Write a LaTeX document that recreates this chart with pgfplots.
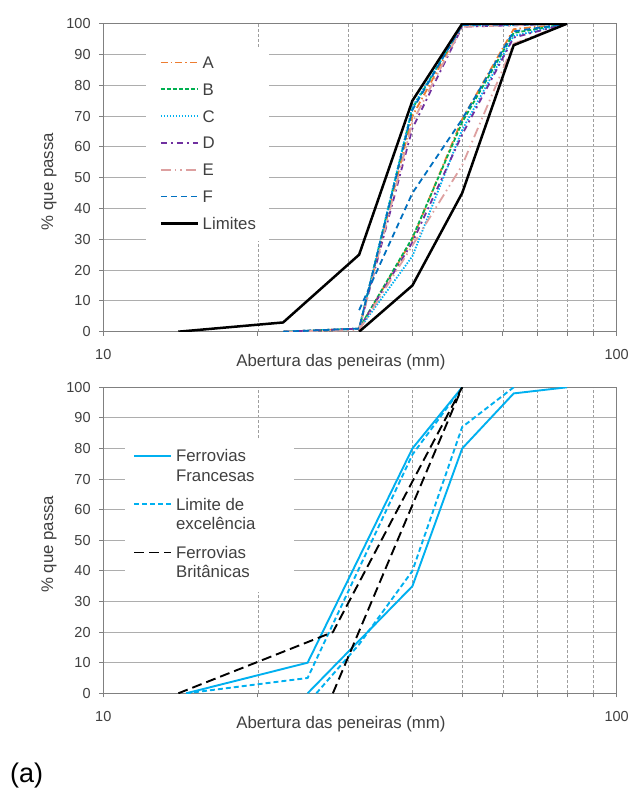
\documentclass[border=0pt]{standalone}
\usepackage{pgfplots}
\pgfplotsset{compat=1.18}
\usepackage{fontspec}
\setmainfont{Liberation Sans}
\definecolor{txt}{HTML}{404040}
\definecolor{cA}{HTML}{ED7D31}
\definecolor{cB}{HTML}{00B050}
\definecolor{cC}{HTML}{00B0F0}
\definecolor{cD}{HTML}{7030A0}
\definecolor{cE}{HTML}{DDA0A0}
\definecolor{cF}{HTML}{0070C0}
\definecolor{cyanL}{HTML}{00B0F0}
\begin{document}
\begin{tikzpicture}
\useasboundingbox (0pt,0pt) rectangle (630pt,789pt);
\fill[white] (0pt,0pt) rectangle (630pt,789pt);

\begin{axis}[at={(103.3pt,457.3pt)}, anchor=south west, height=308pt,
    scale only axis, width=513.4pt,
    xmode=log, xmin=10, xmax=100, ymin=0, ymax=100,
    xtick={10,100}, xticklabels={10,100},
    ytick={0,10,...,100},
    minor xtick={20,30,40,50,60,70,80,90},
    xminorgrids=true, ymajorgrids=true,
    minor x grid style={draw=black!38, dash pattern=on 3pt off 2pt, line width=0.6pt},
    major y grid style={draw=black!32, line width=0.8pt},
    axis line style={draw=black!50, line width=0.8pt},
    tick style={draw=black!50, line width=0.8pt},
    tick align=outside, major tick length=4pt, minor tick length=4pt,
    xtick pos=bottom, ytick pos=left,
    tick label style={font=\fontsize{14.5}{17}\selectfont, text=txt, inner sep=0pt},
    xticklabel style={anchor=base, yshift=-24.3pt},
    yticklabel style={anchor=east, xshift=-8.5pt},
    /pgf/number format/assume math mode=true,
    xlabel={Abertura das peneiras (mm)},
    ylabel={\% que passa},
    label style={font=\fontsize{16.8}{20}\selectfont, text=txt},
    xlabel style={at={(axis description cs:0.463,0)}, anchor=base, yshift=-35pt},
    ylabel style={at={(axis description cs:-0.0976,0.487)}, anchor=base},
    no markers,
    legend image code/.code={\draw[#1] (0pt,6pt) -- (37.4pt,6pt);},
  legend style={at={(axis description cs:0.0832,0.9211)}, anchor=north west,
    draw=none, fill=white, inner xsep=13.3pt, inner ysep=8.3pt, row sep=11.8pt, column sep=3.3pt,
    font=\fontsize{16.8}{20}\selectfont, text=txt,
    nodes={inner sep=0pt, text height=12pt, text depth=3pt}, cells={anchor=base west}},
]
% A
\addplot[cA, line width=1.8pt, dash pattern=on 7pt off 3pt on 1.5pt off 3pt] coordinates {(22.4,0) (31.5,1) (40,70) (50,99.5) (63,99.7) (80,100)};
\addlegendentry{A}
\addplot[cA, line width=1.8pt, dash pattern=on 7pt off 3pt on 1.5pt off 3pt, forget plot] coordinates {(31.5,1) (40,30) (50,69) (63,98.2) (80,100)};
% B
\addplot[cB, line width=1.8pt, dash pattern=on 4pt off 2pt] coordinates {(22.4,0) (31.5,1) (40,72.5) (50,99.6) (63,99.6) (80,100)};
\addlegendentry{B}
\addplot[cB, line width=1.8pt, dash pattern=on 4pt off 2pt, forget plot] coordinates {(31.5,1) (40,30.5) (50,68) (63,97) (80,100)};
% C
\addplot[cC, line width=1.8pt, dash pattern=on 1.5pt off 1.5pt] coordinates {(22.4,0) (31.5,1) (40,73) (50,99.4) (63,99.5) (80,100)};
\addlegendentry{C}
\addplot[cC, line width=1.8pt, dash pattern=on 1.5pt off 1.5pt, forget plot] coordinates {(31.5,0.8) (40,24.5) (50,65.5) (63,96) (80,100)};
% D
\addplot[cD, line width=1.8pt, dash pattern=on 6pt off 4pt on 2pt off 4pt] coordinates {(22.4,0) (31.5,1) (40,66) (50,99) (63,99.5) (80,100)};
\addlegendentry{D}
\addplot[cD, line width=1.8pt, dash pattern=on 6pt off 4pt on 2pt off 4pt, forget plot] coordinates {(31.5,1) (40,29) (50,64) (63,95.5) (80,100)};
% E
\addplot[cE, line width=1.8pt, dash pattern=on 10pt off 4pt on 1.5pt off 4pt on 1.5pt off 4pt] coordinates {(22.4,0) (31.5,0.5) (40,68) (50,99) (63,99.5) (80,100)};
\addlegendentry{E}
\addplot[cE, line width=1.8pt, dash pattern=on 10pt off 4pt on 1.5pt off 4pt on 1.5pt off 4pt, forget plot] coordinates {(31.5,0.5) (40,28) (50,54) (63,93.5) (80,100)};
% F
\addplot[cF, line width=1.8pt, dash pattern=on 6pt off 4pt] coordinates {(22.4,0) (31.5,1) (40,72) (50,99.6) (63,99.7) (80,100)};
\addlegendentry{F}
\addplot[cF, line width=1.8pt, dash pattern=on 6pt off 4pt, forget plot] coordinates {(31.5,7) (40,45) (50,69) (63,97.5) (80,100)};
% Limites
\addplot[black, line width=2.5pt] coordinates {(14,0) (22.4,3) (31.5,25) (40,75) (50,100) (63,100) (80,100)};
\addlegendentry{Limites}
\addplot[black, line width=2.5pt, forget plot] coordinates {(31.5,0) (40,15) (50,45) (63,93) (80,100)};
\end{axis}

\begin{axis}[at={(103.3pt,95.7pt)}, anchor=south west, height=306pt,
    scale only axis, width=513.4pt,
    xmode=log, xmin=10, xmax=100, ymin=0, ymax=100,
    xtick={10,100}, xticklabels={10,100},
    ytick={0,10,...,100},
    minor xtick={20,30,40,50,60,70,80,90},
    xminorgrids=true, ymajorgrids=true,
    minor x grid style={draw=black!38, dash pattern=on 3pt off 2pt, line width=0.6pt},
    major y grid style={draw=black!32, line width=0.8pt},
    axis line style={draw=black!50, line width=0.8pt},
    tick style={draw=black!50, line width=0.8pt},
    tick align=outside, major tick length=4pt, minor tick length=4pt,
    xtick pos=bottom, ytick pos=left,
    tick label style={font=\fontsize{14.5}{17}\selectfont, text=txt, inner sep=0pt},
    xticklabel style={anchor=base, yshift=-24.3pt},
    yticklabel style={anchor=east, xshift=-8.5pt},
    /pgf/number format/assume math mode=true,
    xlabel={Abertura das peneiras (mm)},
    ylabel={\% que passa},
    label style={font=\fontsize{16.8}{20}\selectfont, text=txt},
    xlabel style={at={(axis description cs:0.463,0)}, anchor=base, yshift=-35pt},
    ylabel style={at={(axis description cs:-0.0976,0.487)}, anchor=base},
    no markers,
    legend image code/.code={\draw[#1] (0pt,6pt) -- (36.7pt,6pt);},
  legend style={at={(axis description cs:0.0423,0.8278)}, anchor=north west,
    draw=none, fill=white, inner xsep=8.3pt, inner ysep=9.7pt, row sep=12.8pt, column sep=4pt,
    font=\fontsize{16.8}{20}\selectfont, text=txt,
    nodes={inner sep=0pt, text height=12pt, text depth=23.5pt}, cells={anchor=base west}},
]
\addplot[cyanL, line width=1.9pt] coordinates {(14.5,0) (25,10) (40,80) (50,100)};
\addlegendentry{\parbox[t]{110pt}{\fontsize{16.8}{19.5}\selectfont Ferrovias\\Francesas}}
\addplot[cyanL, line width=1.9pt, forget plot] coordinates {(25,0) (40,35) (50,80) (63,98) (80,100)};
\addplot[cyanL, line width=1.9pt, dash pattern=on 5pt off 3pt] coordinates {(14.5,0) (25,5) (40,78) (50,100)};
\addlegendentry{\parbox[t]{110pt}{\fontsize{16.8}{19.5}\selectfont Limite de\\excelência}}
\addplot[cyanL, line width=1.9pt, dash pattern=on 5pt off 3pt, forget plot] coordinates {(26,0) (31.5,16) (40,40) (50,87) (63,100)};
\addplot[black, line width=1.9pt, dash pattern=on 10pt off 5pt] coordinates {(14,0) (28,20) (50,100)};
\addlegendentry{\parbox[t]{110pt}{\fontsize{16.8}{19.5}\selectfont Ferrovias\\Britânicas}}
\addplot[black, line width=1.9pt, dash pattern=on 10pt off 5pt, forget plot] coordinates {(28,0) (50,100)};
\end{axis}

\node[anchor=base west, font=\fontsize{27}{30}\selectfont, text=black, inner sep=0pt] at (10pt,6.4pt) {(a)};
\end{tikzpicture}
\end{document}
